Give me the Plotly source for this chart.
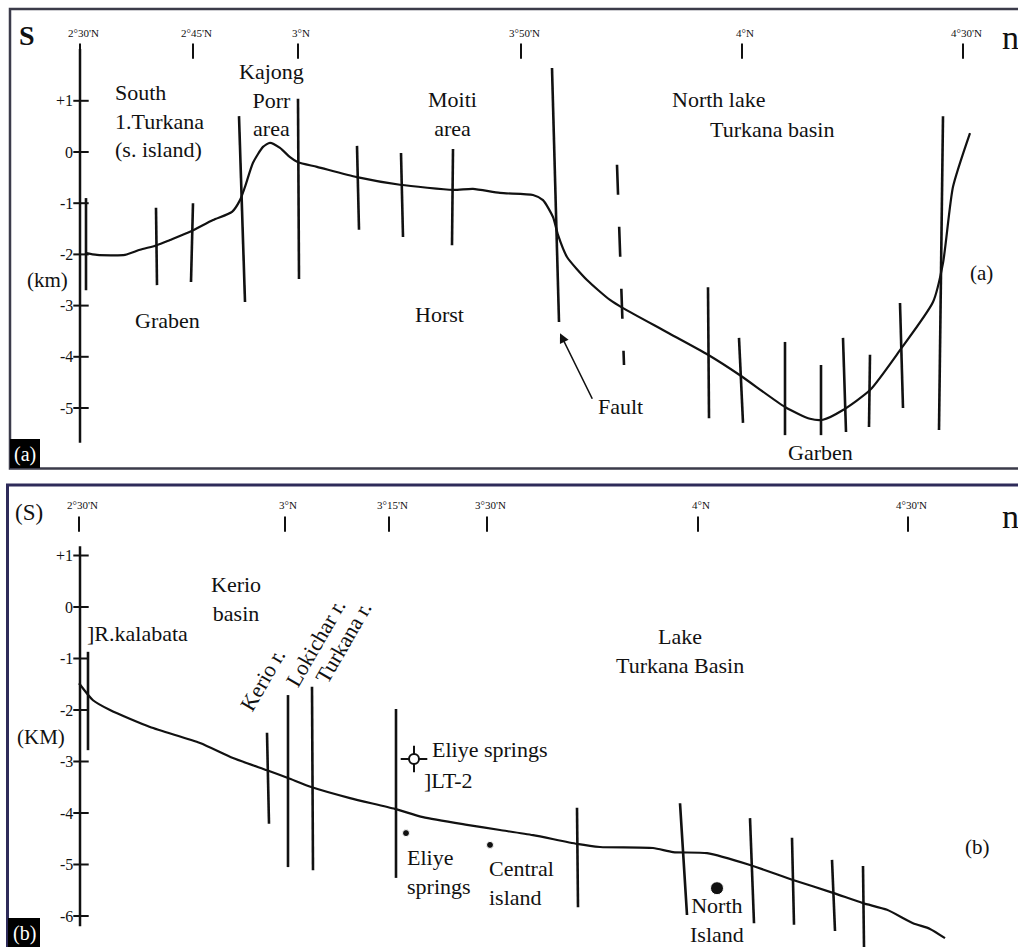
import plotly.graph_objects as go

# ---------------- Section (a): S - N across the Lake Turkana rift ----------------
lat_labels_a = ["2°30'N", "2°45'N", "3°N", "3°50'N", "4°N", "4°30'N"]
lat_dist_a = [0, 28.25, 54.5, 110.25, 165.5, 220.75]      # distance along section
depth_ticks_a = [1, 0, -1, -2, -3, -4, -5]
depth_labels_a = ["+1", "0", "-1", "-2", "-3", "-4", "-5"]

profile_a_dist = [1.25, 4.25, 11.25, 15, 19.25, 22.5, 27.5, 33.25, 38, 40, 41.25, 43.25,
                  45.75, 47.5, 50, 52.5, 54.5, 59.25, 69.25, 80, 93.25, 98.25, 105,
                  113.25, 115.75, 118.25, 119.5, 121.75, 126.75, 132.5, 135.75, 146.75,
                  157, 165, 176.25, 182.5, 185.75, 190.75, 197.5, 205, 213.25, 215.75,
                  218.25, 222.5]
profile_a_depth = [-1.97, -2.01, -2.01, -1.91, -1.82, -1.72, -1.56, -1.33, -1.17, -0.94,
                   -0.68, -0.21, 0.10, 0.18, 0.08, -0.10, -0.20, -0.29, -0.49, -0.64,
                   -0.74, -0.72, -0.80, -0.84, -0.94, -1.27, -1.62, -2.05, -2.50, -2.89,
                   -3.05, -3.52, -3.96, -4.36, -4.98, -5.21, -5.23, -5.04, -4.65, -3.87,
                   -2.93, -2.17, -0.68, 0.37]

# faults: (dist_top, depth_top, dist_bottom, depth_bottom)
faults_a = [
    (1.5, -0.90, 1.5, -2.70),
    (19.0, -1.09, 19.25, -2.60),
    (28.25, -1.00, 27.75, -2.54),
    (39.75, 0.70, 41.25, -2.93),
    (54.5, 1.04, 54.75, -2.48),
    (69.25, 0.12, 69.75, -1.52),
    (80.25, -0.02, 80.75, -1.66),
    (93.25, 0.06, 93.0, -1.82),
    (118.0, 1.64, 119.75, -3.32),
    (157.0, -2.64, 157.25, -5.20),
    (164.75, -3.63, 165.75, -5.29),
    (176.25, -3.71, 176.25, -5.53),
    (185.25, -4.16, 185.25, -5.53),
    (190.75, -3.63, 191.5, -5.47),
    (197.5, -3.96, 197.25, -5.37),
    (205.0, -2.95, 205.75, -5.00),
    (215.75, 0.70, 214.75, -5.43),
]
inferred_fault_a = (134.25, -0.25, 136.0, -4.16)
depth_axis_a = (2.01, -5.68)

# ---------------- Section (b): Kerio basin - Lake Turkana basin ----------------
lat_labels_b = ["2°30'N", "3°N", "3°15'N", "3°30'N", "4°N", "4°30'N"]
lat_dist_b = [-0.25, 51.25, 77.25, 101.75, 154.5, 207]
depth_ticks_b = [1, 0, -1, -2, -3, -4, -5, -6]
depth_labels_b = ["+1", "0", "-1", "-2", "-3", "-4", "-5", "-6"]

profile_b_dist = [-0.25, 3.25, 7.5, 17.5, 30, 38.25, 46.75, 52, 58, 67.5, 78.75, 85.75,
                  96.75, 105, 113.25, 124.25, 130, 143.25, 148.25, 156.75, 167.5, 178.25,
                  188.25, 195.75, 201.75, 208.25, 212.5, 216.25]
profile_b_depth = [-1.48, -1.81, -2.00, -2.33, -2.64, -2.93, -3.17, -3.32, -3.50, -3.71,
                   -3.92, -4.08, -4.23, -4.33, -4.43, -4.60, -4.66, -4.68, -4.76, -4.78,
                   -5.01, -5.30, -5.55, -5.75, -5.88, -6.14, -6.25, -6.43]

faults_b = [
    (2.0, -0.87, 2.0, -2.78),
    (46.75, -2.44, 47.25, -4.21),
    (52.0, -1.71, 52.0, -5.05),
    (58.0, -1.55, 58.25, -5.11),
    (79.0, -1.98, 79.0, -5.26),
    (124.25, -3.90, 124.5, -5.83),
    (150.0, -3.81, 151.75, -5.98),
    (167.5, -4.10, 168.5, -6.14),
    (178.0, -4.48, 178.5, -6.17),
    (188.0, -4.91, 188.75, -6.29),
    (195.75, -5.03, 196.0, -6.60),
]
depth_axis_b = (1.18, -6.20)

site_names = ["Eliye springs", "Central island", "North Island"]
site_dist = [81.5, 102.5, 159.25]
site_depth = [-4.39, -4.62, -5.46]
well_name = "LT-2"
well_dist = [83.5]
well_depth = [-2.95]

# ---------------- figure ----------------
W, H = 1018, 947
SERIF = "Liberation Serif, Times New Roman, serif"
INK = "#111111"
TXT = 22

fig = go.Figure()


def seg_xy(segs):
    xs, ys = [], []
    for x0, y0, x1, y1 in segs:
        xs += [x0, x1, None]
        ys += [y0, y1, None]
    return xs, ys


def add_line(x, y, panel, width=2.2, dash="solid", shape="linear"):
    fig.add_trace(go.Scatter(x=x, y=y, mode="lines", xaxis="x" + panel, yaxis="y" + panel,
                             line=dict(color=INK, width=width, dash=dash, shape=shape,
                                       smoothing=0.6 if shape == "spline" else None),
                             hoverinfo="skip", showlegend=False))


def add_panel(panel, dist, depth, faults, axis_ext, ticks, tick_labels, lat_dist, lat_labels,
              lat_tick_y, lat_label_y):
    ax = "x" + panel
    ay = "y" + panel
    # depth axis with crossing ticks
    add_line([0, 0], list(axis_ext), panel, width=2.5)
    fig.add_trace(go.Scatter(x=[0.25] * len(ticks), y=ticks, mode="markers", xaxis=ax, yaxis=ay,
                             marker=dict(symbol="line-ew", size=11, color=INK,
                                         line=dict(color=INK, width=2)),
                             hoverinfo="skip", showlegend=False))
    for v, t in zip(ticks, tick_labels):
        fig.add_annotation(x=-1.25, y=v, xref=ax, yref=ay, text=t, showarrow=False,
                           xanchor="right", yanchor="middle",
                           font=dict(family=SERIF, size=16, color=INK))
    # latitude marks along the top
    fig.add_trace(go.Scatter(x=lat_dist, y=[lat_tick_y] * len(lat_dist), mode="markers",
                             xaxis=ax, yaxis=ay,
                             marker=dict(symbol="line-ns", size=11, color=INK,
                                         line=dict(color=INK, width=2)),
                             hoverinfo="skip", showlegend=False))
    for d, t in zip(lat_dist, lat_labels):
        fig.add_annotation(x=d + 0.75, y=lat_label_y, xref=ax, yref=ay, text=t,
                           showarrow=False, xanchor="center", yanchor="middle",
                           font=dict(family=SERIF, size=11, color=INK))
    # faults and surface profile
    fx, fy = seg_xy(faults)
    add_line(fx, fy, panel, width=2.6)
    add_line(dist, depth, panel, width=2.2, shape="spline")


def label(text, x, y, panel, size=TXT, xanchor="center", angle=0, bold=False):
    fig.add_annotation(x=x, y=y, xref="x" + panel, yref="y" + panel,
                       text=("<b>%s</b>" % text) if bold else text, showarrow=False,
                       xanchor=xanchor, yanchor="middle", textangle=angle,
                       align="left" if xanchor == "left" else "center",
                       font=dict(family=SERIF, size=size, color=INK))


add_panel("", profile_a_dist, profile_a_depth, faults_a, depth_axis_a, depth_ticks_a,
          depth_labels_a, lat_dist_a, lat_labels_a, 1.97, 2.33)
add_line([inferred_fault_a[0], inferred_fault_a[2]], [inferred_fault_a[1], inferred_fault_a[3]],
         "", width=2.6, dash="30px,32px")

add_panel("2", profile_b_dist, profile_b_depth, faults_b, depth_axis_b, depth_ticks_b,
          depth_labels_b, lat_dist_b, lat_labels_b, 1.61, 1.98)

# sites on section (b)
fig.add_trace(go.Scatter(x=site_dist, y=site_depth, mode="markers", xaxis="x2", yaxis="y2",
                         marker=dict(color=INK, size=[7, 7, 13], opacity=1),
                         hoverinfo="skip", showlegend=False))
fig.add_trace(go.Scatter(x=well_dist, y=well_depth, mode="markers", xaxis="x2", yaxis="y2",
                         marker=dict(symbol="cross-thin-open", size=19, color=INK,
                                     line=dict(color=INK, width=2)),
                         hoverinfo="skip", showlegend=False))
fig.add_trace(go.Scatter(x=well_dist, y=well_depth, mode="markers", xaxis="x2", yaxis="y2",
                         marker=dict(symbol="circle", size=10, color="white",
                                     line=dict(color=INK, width=2)),
                         hoverinfo="skip", showlegend=False))

# ---- labels, section (a)
label("S", -13.25, 2.27, "", size=28, bold=True)
label("n", 230, 2.23, "", size=34, xanchor="left")
label("South<br>1.Turkana<br>(s. island)", 8.25, 0.60, "", xanchor="left")
label("Kajong<br>Porr<br>area", 47.75, 1.02, "")
label("Moiti<br>area", 93, 0.75, "")
label("North lake", 147.5, 1.02, "", xanchor="left")
label("Turkana basin", 157, 0.43, "", xanchor="left")
label("Graben", 21.75, -3.30, "")
label("Horst", 89.75, -3.18, "")
label("Fault", 135, -4.98, "")
label("Garben", 185, -5.86, "")
label("(a)", 225.25, -2.36, "", size=21)
label("(km)", -8.25, -2.50, "", size=21)
fig.add_annotation(x=120, y=-3.54, xref="x", yref="y", text="", showarrow=True,
                   ax=33, ay=67, arrowhead=2, arrowsize=1.2, arrowwidth=1.6, arrowcolor=INK)

# ---- labels, section (b)
label("(S)", -12.75, 1.83, "2", size=23)
label("n", 230, 1.75, "2", size=34, xanchor="left")
label("]R.kalabata", 1.25, -0.52, "2", xanchor="left")
label("Kerio<br>basin", 39, 0.155, "2")
label("Kerio r.", 45.5, -1.42, "2", angle=-60)
label("Lokichar r.", 58.75, -0.70, "2", angle=-60)
label("Turkana r.", 65.75, -0.68, "2", angle=-60)
label("Lake<br>Turkana Basin", 150, -0.85, "2")
label("Eliye springs", 87.5, -2.76, "2", xanchor="left")
label("]" + well_name, 85.5, -3.36, "2", xanchor="left")
label("Eliye<br>springs", site_dist[0] - 0.25, -5.15, "2", xanchor="left")
label("Central<br>island", site_dist[1] - 0.75, -5.35, "2", xanchor="left")
label("North<br>Island", site_dist[2], -6.07, "2")
label("(b)", 224.25, -4.66, "2", size=21)
label("(KM)", -9.75, -2.52, "2", size=21)

# ---- panel frames and corner tags
split = 475 / H
shapes = [
    dict(type="rect", xref="paper", yref="paper", x0=10 / W, x1=1.02,
         y0=1 - 468.5 / H, y1=1 - 9 / H, line=dict(color="#3b3b4a", width=2.5)),
    dict(type="rect", xref="paper", yref="paper", x0=7.5 / W, x1=1.02,
         y0=-0.02, y1=1 - 485 / H, line=dict(color="#2e2b5a", width=3)),
    dict(type="rect", xref="paper", yref="paper", x0=10 / W, x1=40 / W,
         y0=1 - 468 / H, y1=1 - 439 / H, fillcolor="black", line=dict(width=0)),
    dict(type="rect", xref="paper", yref="paper", x0=8 / W, x1=40 / W,
         y0=0, y1=1 - 918 / H, fillcolor="black", line=dict(width=0)),
]
fig.add_annotation(x=25 / W, y=1 - 454 / H, xref="paper", yref="paper", text="(a)",
                   showarrow=False, xanchor="center", yanchor="middle",
                   font=dict(family=SERIF, size=20, color="white"))
fig.add_annotation(x=24 / W, y=1 - 933 / H, xref="paper", yref="paper", text="(b)",
                   showarrow=False, xanchor="center", yanchor="middle",
                   font=dict(family=SERIF, size=20, color="white"))

xr = [-20, 234.5]
fig.update_layout(
    width=W, height=H, margin=dict(l=0, r=0, t=0, b=0),
    paper_bgcolor="white", plot_bgcolor="white", showlegend=False,
    shapes=shapes,
    xaxis=dict(domain=[0, 1], range=xr, visible=False, anchor="y"),
    yaxis=dict(domain=[1 - split, 1], range=[(152 - 475) / 51.2, 152 / 51.2],
               visible=False, anchor="x"),
    xaxis2=dict(domain=[0, 1], range=xr, visible=False, anchor="y2"),
    yaxis2=dict(domain=[0, 1 - split], range=[(607 - 947) / 51.5, (607 - 475) / 51.5],
                visible=False, anchor="x2"),
)

fig.write_html("out.html")
